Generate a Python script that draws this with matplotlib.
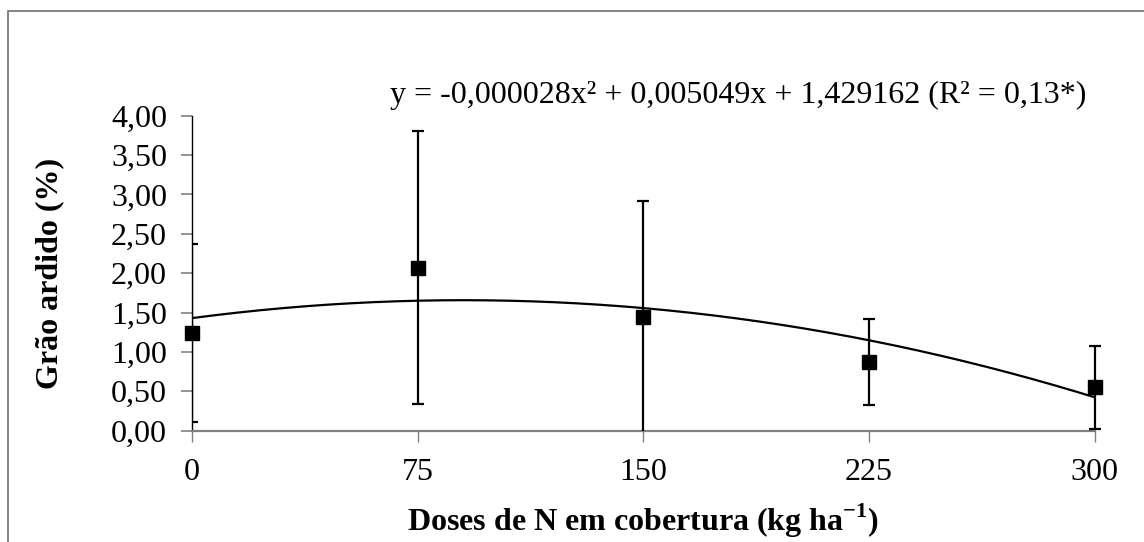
import numpy as np
import matplotlib
matplotlib.use("Agg")
import matplotlib.pyplot as plt
from matplotlib.patches import Rectangle
from matplotlib.ticker import FuncFormatter

plt.rcParams['font.family'] = ['Liberation Serif', 'DejaVu Serif']
plt.rcParams['mathtext.fontset'] = 'custom'
plt.rcParams['mathtext.rm'] = 'Liberation Serif'
plt.rcParams['mathtext.bf'] = 'Liberation Serif:bold'

# data
doses = [0, 75, 150, 225, 300]
grao_ardido = [1.24, 2.07, 1.44, 0.87, 0.55]
erro = [1.13, 1.73, 1.48, 0.55, 0.53]

# fitted quadratic
coef_a = -0.000028
coef_b = 0.005049
coef_c = 1.429162
equacao = "y = -0,000028x² + 0,005049x + 1,429162 (R² = 0,13*)"

fig = plt.figure(figsize=(11.44, 5.42), dpi=100)
ax = fig.add_axes([0.1678, 0.2054, 0.7892, 0.5812])

xs = np.linspace(0, 300, 200)
ax.plot(xs, coef_a * xs**2 + coef_b * xs + coef_c, color='black', lw=1.6, zorder=2)

eb = ax.errorbar(doses, grao_ardido, yerr=erro, fmt='s', color='black', ms=10,
                 ecolor='black', elinewidth=1.6, capsize=4.5, capthick=1.6, zorder=3)
# clip box a bit wider on the right so the last cap shows complete
clip = Rectangle((0, 0), 1.05, 1.0, transform=ax.transAxes)
for art in eb.lines[1] + eb.lines[2]:
    art.set_clip_path(clip)
eb.lines[0].set_clip_on(False)

ax.set_xlim(0, 300)
ax.set_ylim(0, 4)
ax.set_xticks(doses)
ax.set_yticks(np.arange(0, 4.01, 0.5))
ax.yaxis.set_major_formatter(FuncFormatter(lambda v, p: f"{v:.2f}".replace('.', ',')))

for s in ['top', 'right']:
    ax.spines[s].set_visible(False)
ax.spines['left'].set_color('black')
ax.spines['bottom'].set_color('#808080')
ax.spines['left'].set_linewidth(1.0)
ax.spines['bottom'].set_linewidth(1.6)
ax.tick_params(axis='y', direction='out', length=8, width=1.2, color='#808080', labelsize=23, pad=10)
ax.tick_params(axis='x', direction='out', length=8, width=1.0, color='#808080', labelsize=23, pad=12)

ax.set_ylabel("Grão ardido (%)", fontsize=23, fontweight='bold', labelpad=34)
ax.set_xlabel(r"Doses de N em cobertura (kg ha$^{\mathbf{-1}}$)", fontsize=23,
              fontweight='bold', labelpad=10)

fig.text(390 / 1144, 1 - 95 / 542, equacao, fontsize=23, va='center', ha='left')

fig.patches.append(Rectangle((8 / 1144, -0.1), 1.2, 1 - 11 / 542 + 0.1,
                             transform=fig.transFigure, fill=False,
                             edgecolor='#6e6e6e', lw=1.2))

fig.savefig("out.png", dpi=100)
